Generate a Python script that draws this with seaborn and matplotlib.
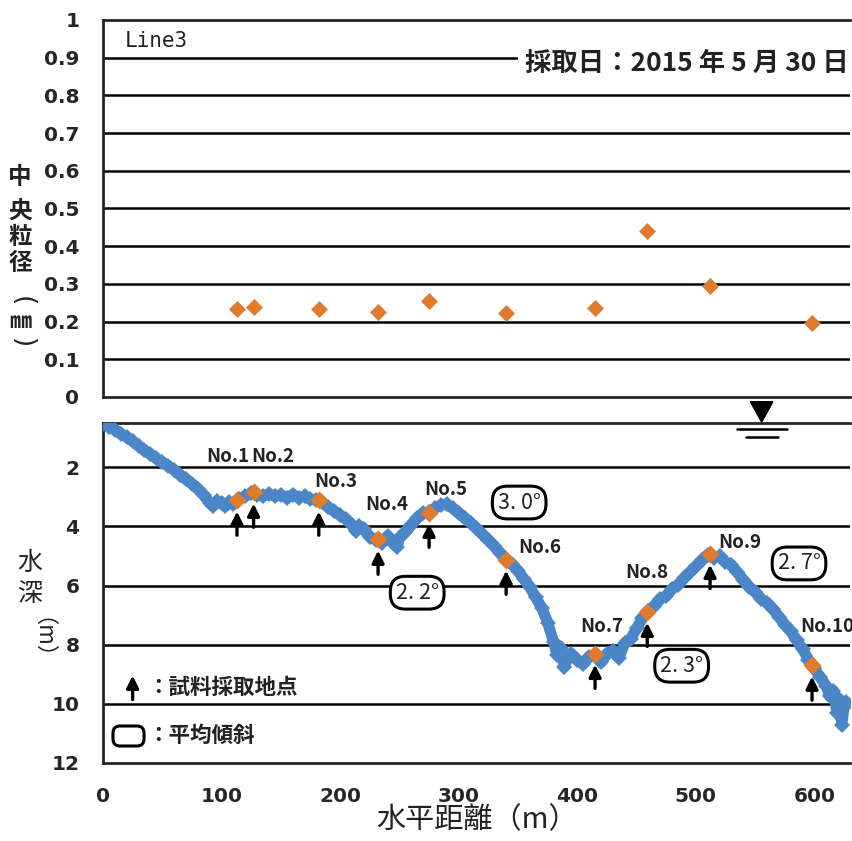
import matplotlib
matplotlib.use("Agg")
import matplotlib.pyplot as plt
from matplotlib.patches import FancyBboxPatch
from matplotlib.transforms import IdentityTransform
import seaborn as sns
import pandas as pd

# ---- data -------------------------------------------------------------
sample_names = ["No.1", "No.2", "No.3", "No.4", "No.5",
                "No.6", "No.7", "No.8", "No.9", "No.10"]
sample_x = [113, 127, 182, 232, 275, 340, 415, 459, 512, 598]
median_size_mm = [0.233, 0.238, 0.233, 0.226, 0.255,
                  0.223, 0.236, 0.441, 0.295, 0.196]
sample_depth_m = [3.12, 2.85, 3.12, 4.44, 3.53, 5.12, 8.30, 6.88, 4.92, 8.70]

profile_x = [0, 5, 10, 15, 20, 25, 30, 35, 40, 45, 50, 55, 60, 65, 70, 75,
             80, 85, 90, 93, 96, 100, 103, 106, 110, 115, 120, 125, 130,
             135, 140, 145, 150, 155, 160, 165, 170, 175, 180, 185, 190,
             195, 200, 205, 210, 213, 216, 220, 225, 230, 235, 240, 245,
             248, 250, 255, 260, 265, 270, 275, 280, 285, 290, 295, 300,
             305, 310, 315, 320, 325, 330, 335, 340, 345, 350, 355, 360,
             365, 370, 375, 380, 383, 386, 389, 392, 395, 400, 405, 410,
             415, 420, 425, 430, 435, 440, 445, 450, 455, 460, 465, 470,
             475, 480, 485, 490, 495, 500, 505, 510, 515, 520, 525, 530,
             535, 540, 545, 550, 555, 560, 565, 570, 575, 580, 585, 590,
             595, 600, 605, 610, 613, 616, 619, 621, 623, 625, 627]
profile_depth = [0.55, 0.62, 0.72, 0.86, 0.98, 1.12, 1.28, 1.42, 1.55, 1.70,
                 1.82, 1.95, 2.08, 2.25, 2.40, 2.55, 2.72, 2.95, 3.20, 3.30,
                 3.15, 3.22, 3.32, 3.18, 3.25, 3.08, 2.98, 2.88, 2.92, 2.97,
                 2.90, 2.98, 2.93, 3.02, 2.92, 3.02, 2.98, 3.08, 3.10, 3.18,
                 3.35, 3.48, 3.62, 3.75, 3.95, 4.15, 3.98, 4.10, 4.35, 4.45,
                 4.55, 4.32, 4.55, 4.68, 4.40, 4.20, 3.95, 3.72, 3.55, 3.50,
                 3.38, 3.28, 3.25, 3.38, 3.55, 3.72, 3.88, 4.05, 4.25, 4.45,
                 4.65, 4.90, 5.10, 5.28, 5.50, 5.78, 6.05, 6.40, 6.75, 7.25,
                 7.90, 8.35, 8.10, 8.75, 8.45, 8.30, 8.50, 8.65, 8.40, 8.35,
                 8.60, 8.30, 8.20, 8.45, 7.95, 7.80, 7.45, 7.10, 6.85, 6.70,
                 6.45, 6.35, 6.10, 5.98, 5.75, 5.55, 5.35, 5.15, 4.95, 5.05,
                 5.00, 5.20, 5.30, 5.55, 5.80, 6.05, 6.20, 6.45, 6.58, 6.80,
                 7.05, 7.32, 7.55, 7.85, 8.15, 8.50, 8.80, 9.10, 9.40, 9.75,
                 9.55, 10.30, 9.85, 10.70, 10.10, 9.95]

slope_labels = ["2. 2°", "3. 0°", "2. 3°", "2. 7°"]
slope_pos_x = [265, 351, 488, 587]
slope_pos_y = [6.24, 3.19, 8.71, 5.25]

name_pos_x = [105, 143, 196, 239, 289, 368, 421, 459, 537, 611]
name_pos_y = [1.63, 1.63, 2.47, 3.25, 2.75, 4.70, 7.40, 5.57, 4.55, 7.40]

ORANGE = "#E07B2C"
BLUE = "#4A86C8"
INK = "#222222"

# ---- style ------------------------------------------------------------
sns.set_theme(style="white")
plt.rcParams["font.family"] = ["DejaVu Sans", "Noto Sans CJK JP"]
plt.rcParams["axes.linewidth"] = 2.0
CJK = ["Noto Sans CJK JP", "DejaVu Sans"]

W, H = 853, 841
fig = plt.figure(figsize=(W / 100, H / 100), dpi=100)
left = 103 / W
width = (850 - 103) / W
ax_top = fig.add_axes([left, 1 - 397 / H, width, (397 - 20) / H])
ax_bot = fig.add_axes([left, 1 - 763 / H, width, (763 - 423) / H])

XMAX = 630

# ---- upper panel: median grain size ----------------------------------
top_df = pd.DataFrame({"x": sample_x, "d50": median_size_mm})
sns.scatterplot(data=top_df, x="x", y="d50", ax=ax_top, marker="D",
                color=ORANGE, s=75, linewidth=0, zorder=5)
ax_top.set_xlim(0, XMAX)
ax_top.set_ylim(0, 1)
yt = [0, 0.1, 0.2, 0.3, 0.4, 0.5, 0.6, 0.7, 0.8, 0.9, 1.0]
ax_top.set_yticks(yt)
ax_top.set_yticklabels(["0", "0.1", "0.2", "0.3", "0.4", "0.5", "0.6",
                        "0.7", "0.8", "0.9", "1"])
ax_top.set_xticks([100, 200, 300, 400, 500, 600])
ax_top.set_xticklabels([])
for v in yt[1:-1]:
    ax_top.axhline(v, color="black", lw=1.8, zorder=1)
ax_top.tick_params(axis="y", direction="out", length=8, width=1.8,
                   pad=9, labelsize=14.5)
ax_top.tick_params(axis="x", direction="in", length=10, width=1.8)
for lab in ax_top.get_yticklabels():
    lab.set_fontweight("bold")
ax_top.spines["right"].set_visible(False)
ax_top.set_xlabel("")
ax_top.set_ylabel("")

ax_top.text(18, 0.945, "Line3", family="DejaVu Sans Mono", fontsize=15,
            va="center", ha="left", color=INK)
ax_top.text(XMAX - 1, 0.886, "採取日：2015 年 5 月 30 日", family=CJK,
            fontsize=19, fontweight="bold", ha="right", va="center",
            color=INK, zorder=6,
            bbox=dict(facecolor="white", edgecolor="none", pad=5))

# vertical axis title, stacked characters
for ch, py in zip(["中", "央", "粒", "径"], [177, 211, 237, 263]):
    fig.text(20 / W, 1 - py / H, ch, family=CJK, fontsize=17,
             fontweight="bold", ha="center", va="center", color=INK)
fig.text(22 / W, 1 - 301 / H, "(", family="DejaVu Sans", fontsize=19,
         rotation=-90, ha="center", va="center", color=INK)
fig.text(20 / W, 1 - 322 / H, "㎜", family=CJK, fontsize=16,
         fontweight="bold", ha="center", va="center", color=INK)
fig.text(22 / W, 1 - 343 / H, ")", family="DejaVu Sans", fontsize=19,
         rotation=-90, ha="center", va="center", color=INK)

# ---- lower panel: depth profile ---------------------------------------
prof_df = pd.DataFrame({"x": profile_x, "depth": profile_depth})
sns.lineplot(data=prof_df, x="x", y="depth", ax=ax_bot, color=BLUE,
             lw=8, marker="D", markersize=8, markeredgewidth=0,
             zorder=3, sort=False)
pt_df = pd.DataFrame({"x": sample_x, "depth": sample_depth_m})
sns.scatterplot(data=pt_df, x="x", y="depth", ax=ax_bot, marker="D",
                color=ORANGE, s=85, linewidth=0, zorder=5)

ax_bot.set_xlim(0, XMAX)
ax_bot.set_ylim(12, 0.5)
ax_bot.set_yticks([2, 4, 6, 8, 10, 12])
ax_bot.set_yticklabels(["2", "4", "6", "8", "10", "12"])
ax_bot.set_xticks([0, 100, 200, 300, 400, 500, 600])
ax_bot.set_xticklabels(["0", "100", "200", "300", "400", "500", "600"])
for v in [2, 4, 6, 8, 10]:
    ax_bot.axhline(v, color="black", lw=1.8, zorder=1)
ax_bot.tick_params(axis="y", direction="out", length=8, width=1.8,
                   pad=9, labelsize=14.5)
ax_bot.tick_params(axis="x", direction="in", length=10, width=1.8,
                   pad=17, labelsize=14.5)
for lab in ax_bot.get_yticklabels() + ax_bot.get_xticklabels():
    lab.set_fontweight("bold")
ax_bot.spines["right"].set_visible(False)
ax_bot.set_ylabel("")
ax_bot.set_xlabel("水平距離（m）", family=CJK, fontsize=21, labelpad=0,
                  color=INK)

# sample labels and arrows
for name, x, d, lx, ly in zip(sample_names, sample_x, sample_depth_m,
                              name_pos_x, name_pos_y):
    ax_bot.text(lx, ly, name, family=CJK, fontweight="bold",
                fontsize=13.5, ha="center", va="center", color=INK,
                zorder=6)
    ax_bot.annotate("", xy=(x, d + 0.28), xytext=(x, d + 1.27),
                    arrowprops=dict(arrowstyle="-|>", color="black", lw=2.4,
                                    mutation_scale=18), zorder=6)

# mean slope labels
for txt, x, y in zip(slope_labels, slope_pos_x, slope_pos_y):
    ax_bot.text(x, y, txt, family=CJK, fontsize=15.5, ha="center",
                va="center", color=INK, zorder=7,
                bbox=dict(boxstyle="round,pad=0.25,rounding_size=0.7",
                          facecolor="white", edgecolor="black", lw=2.2))

# legend notes
ax_bot.annotate("", xy=(25, 8.95), xytext=(25, 9.95),
                arrowprops=dict(arrowstyle="-|>", color="black", lw=2.4,
                                mutation_scale=18), zorder=6)
ax_bot.text(37, 9.46, "：試料採取地点", family=CJK, fontsize=15.5,
            fontweight="bold", ha="left", va="center", color=INK)
fig.add_artist(FancyBboxPatch((113, H - 746), 31, 20,
                              boxstyle="round,pad=0,rounding_size=7",
                              facecolor="white", edgecolor="black", lw=2.2,
                              transform=IdentityTransform()))
ax_bot.text(37, 11.08, "：平均傾斜", family=CJK, fontsize=15.5,
            fontweight="bold", ha="left", va="center", color=INK)

# water surface symbol
ax_bot.fill([546, 565, 555.5], [-0.22, -0.22, 0.47], color="black",
            clip_on=False, zorder=8)
ax_bot.plot([535, 577], [0.71, 0.71], color="black", lw=1.8,
            clip_on=False, zorder=8)
ax_bot.plot([542, 569], [0.98, 0.98], color="black", lw=1.8,
            clip_on=False, zorder=8)

# vertical axis title
for ch, py in zip(["水", "深"], [563, 594]):
    fig.text(30 / W, 1 - py / H, ch, family=CJK, fontsize=18,
             ha="center", va="center", color=INK)
fig.text(30 / W, 1 - 650 / H, "（m）", family=CJK, fontsize=16,
         rotation=-90, ha="center", va="center", color=INK)

fig.savefig("out.png", dpi=100)
